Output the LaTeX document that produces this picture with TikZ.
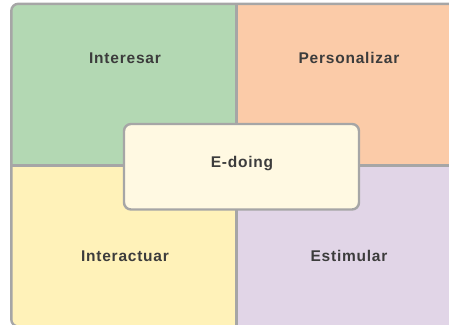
\documentclass[tikz,border=0pt]{standalone}
\usepackage{fontspec}
\setmainfont{Liberation Sans}[LetterSpace=5]
\definecolor{frame}{HTML}{A6A6A6}
\definecolor{qgreen}{HTML}{B3D8B3}
\definecolor{qpeach}{HTML}{FBCBA8}
\definecolor{qyellow}{HTML}{FFF2B9}
\definecolor{qlilac}{HTML}{E1D5E7}
\definecolor{qcenter}{HTML}{FFF9E2}
\definecolor{txt}{HTML}{3C3C3C}
\begin{document}
\begin{tikzpicture}[x=1pt,y=-1pt,
  edge/.style={draw=frame,line width=2.4pt},
  lbl/.style={font=\fontsize{15.5}{17}\selectfont\bfseries,text=txt,inner sep=0pt}]
\useasboundingbox (0,0) rectangle (449,324);
\begin{scope}
\clip (0,0) rectangle (449,324);
\begin{scope}
\clip[rounded corners=7pt] (11.3,3.8) rectangle (470,326.5);
\fill[qgreen]  (11.3,3.8) rectangle (236,165.5);
\fill[qpeach]  (236,3.8) rectangle (470,165.5);
\fill[qyellow] (11.3,165.5) rectangle (236,326.5);
\fill[qlilac]  (236,165.5) rectangle (470,326.5);
\end{scope}
\draw[edge,line width=3pt] (236,3.8) -- (236,326.5);
\draw[edge,line width=3pt] (11.3,165.5) -- (470,165.5);
\draw[edge,rounded corners=7pt] (11.3,3.8) rectangle (470,326.5);
\end{scope}
\node[draw=frame,line width=2.4pt,rounded corners=7pt,fill=qcenter,
  minimum width=235pt,minimum height=85.5pt,inner sep=0pt] (c) at (241.5,166.75) {};
\node[lbl] (e) at (242,164) {E-doing};
\node[lbl] (a) at (125,58) {Interesar};
\node[lbl] (b) at (349,58) {Personalizar};
\node[lbl] (d) at (125,256) {Interactuar};
\node[lbl] (f) at (349,256) {Estimular};
\end{tikzpicture}
\end{document}
